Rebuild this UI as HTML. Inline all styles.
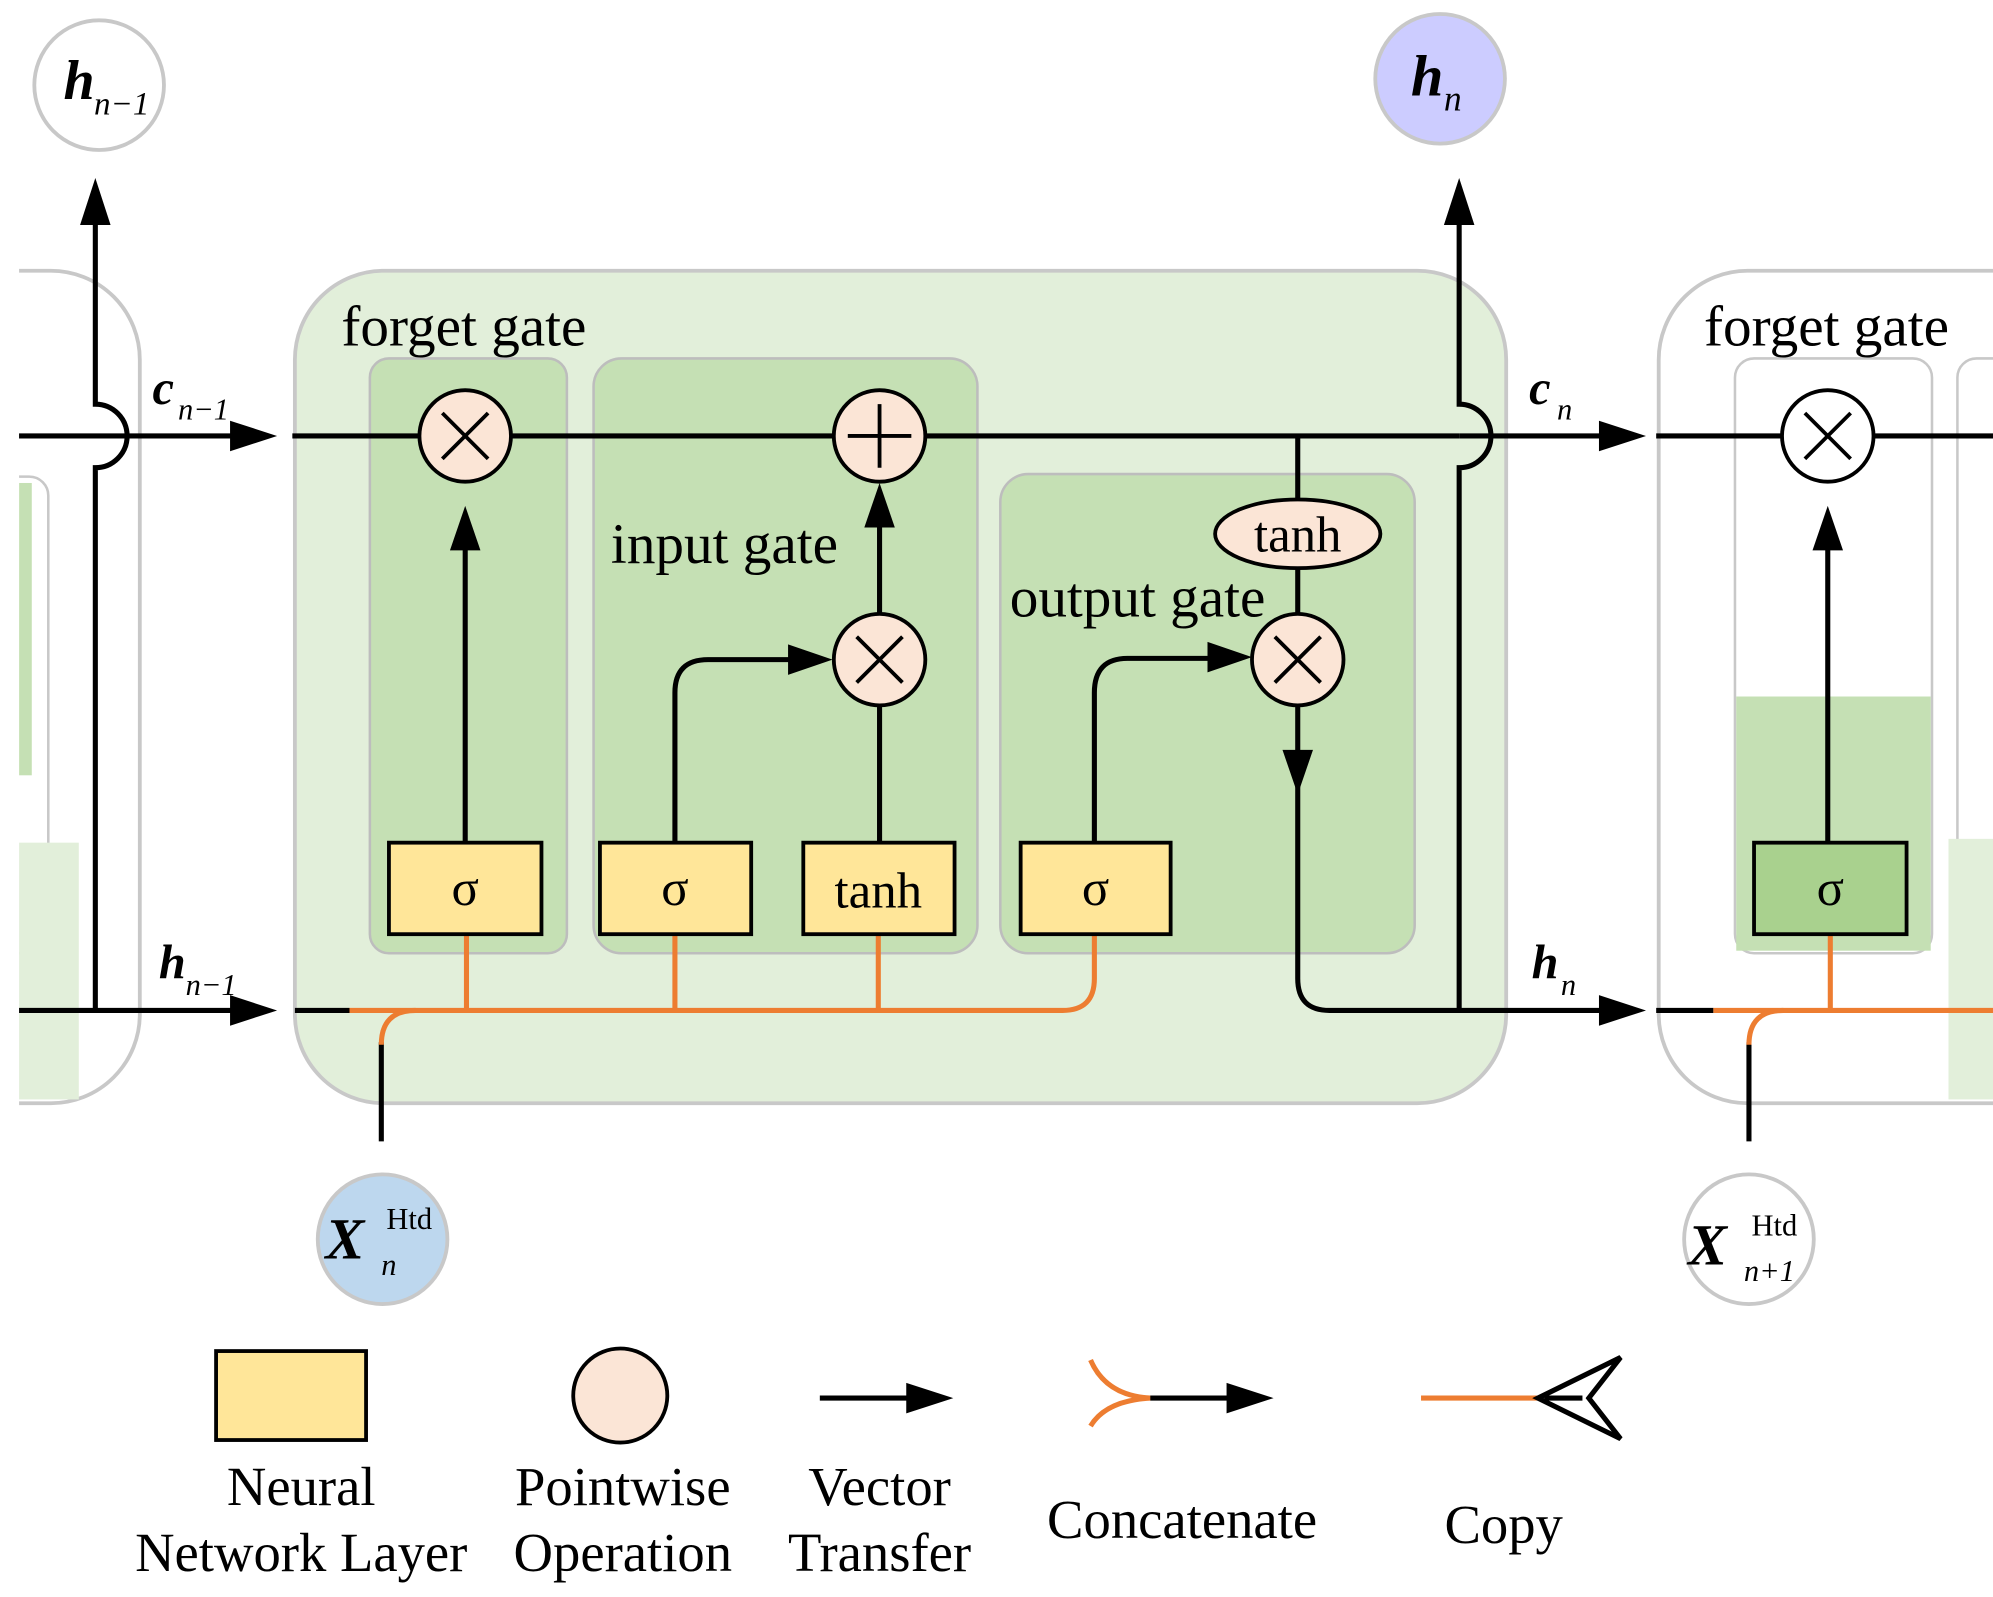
<!DOCTYPE html>
<html><head><meta charset="utf-8"><style>html,body{margin:0;padding:0;background:#fff}svg{display:block}</style></head><body>
<svg width="1993" height="1597" viewBox="0 0 1568 1256.5" preserveAspectRatio="none" xmlns="http://www.w3.org/2000/svg" font-family="Liberation Serif, serif">
<!-- left partial cell -->
<rect x="-100" y="213" width="210" height="655" rx="70" fill="#fff" stroke="#c8c8c8" stroke-width="3"/>
<rect x="-60" y="375" width="98" height="375" rx="15" fill="#fff" stroke="#c8c8c8" stroke-width="2"/>
<rect x="15" y="380" width="10" height="230" fill="#c5e0b4"/>
<rect x="15" y="663" width="47" height="202" fill="#e2efda"/>
<rect x="0" y="200" width="15" height="700" fill="#fff"/>
<circle cx="78" cy="67" r="51" fill="#fff" stroke="#c8c8c8" stroke-width="3"/>
<text x="50" y="78" font-size="44" font-style="italic" font-weight="bold">h</text><text x="74" y="90" font-size="26" font-style="italic">n−1</text>
<!-- main cell -->
<rect x="232" y="213" width="953" height="655" rx="70" fill="#e2efda" stroke="#c8c8c8" stroke-width="3"/>
<rect x="291" y="282" width="155" height="468" rx="15" fill="#c5e0b4" stroke="#bdbdbd" stroke-width="2"/>
<rect x="467" y="282" width="302" height="468" rx="22" fill="#c5e0b4" stroke="#bdbdbd" stroke-width="2"/>
<rect x="787" y="373" width="326" height="377" rx="22" fill="#c5e0b4" stroke="#bdbdbd" stroke-width="2"/>
<text x="365" y="272" font-size="45" text-anchor="middle">forget gate</text>
<text x="570" y="443" font-size="45" text-anchor="middle">input gate</text>
<text x="895" y="485" font-size="45" text-anchor="middle">output gate</text>
<!-- right cell -->
<rect x="1305" y="213" width="400" height="655" rx="70" fill="#fff" stroke="#c8c8c8" stroke-width="3"/>
<rect x="1365" y="282" width="155" height="468" rx="15" fill="#fff" stroke="#c8c8c8" stroke-width="2"/>
<rect x="1366" y="548" width="153" height="200" fill="#c5e0b4"/>
<rect x="1540" y="282" width="100" height="468" rx="15" fill="#fff" stroke="#c8c8c8" stroke-width="2"/>
<rect x="1533" y="660" width="40" height="205" fill="#e2efda"/>
<text x="1437" y="272" font-size="45" text-anchor="middle">forget gate</text>
<g stroke="#000" stroke-width="4" fill="none">
<path d="M75 795 V368 A25 25 0 0 0 75 318 V165"/>
<path d="M15 343 H195"/>
<path d="M15 795 H195"/>
<path d="M230 343 H1148"/>
<path d="M1148 795 V368 A25 25 0 0 0 1148 318 V165"/>
<path d="M1148 343 H1270"/>
<path d="M232 795 H275"/>
<path d="M366 663 V425"/>
<path d="M692 663 V555 M692 483 V410"/>
<path d="M531 663 V545 Q531 519 557 519 H630"/>
<path d="M861 663 V545 Q861 518 887 518 H960"/>
<path d="M1021 343 V393 M1021 447 V483 M1021 555 V598"/>
<path d="M1021 610 V770 Q1021 795 1046 795 H1270"/>
<path d="M300 820 V898"/>
<path d="M1303 343 H1402 M1474 343 H1568"/>
<path d="M1438 663 V430"/>
<path d="M1303 795 H1348"/>
<path d="M1376 820 V898"/>
</g>
<g fill="#000">
<polygon points="75,140 63,177 87,177"/>
<polygon points="1148,140 1136,177 1160,177"/>
<polygon points="218,343 181,331 181,355"/>
<polygon points="218,795 181,783 181,807"/>
<polygon points="1295,343 1258,331 1258,355"/>
<polygon points="1295,795 1258,783 1258,807"/>
<polygon points="366,398 354,433 378,433"/>
<polygon points="692,380 680,415 704,415"/>
<polygon points="655,519 620,507 620,531"/>
<polygon points="985,517 950,505 950,529"/>
<polygon points="1021,625 1009,590 1033,590"/>
<polygon points="1438,398 1426,433 1450,433"/>
</g>
<g stroke="#ed7d31" stroke-width="4" fill="none">
<path d="M275 795 H836 Q861 795 861 770 V735"/>
<path d="M367 735 V795 M531 735 V795 M691 735 V795"/>
<path d="M300 822 Q300 795 327 795"/>
<path d="M1348 795 H1568 M1440 735 V795"/>
<path d="M1376 822 Q1376 795 1403 795"/>
</g>
<g stroke="#000" stroke-width="3">
<circle cx="366" cy="343" r="36" fill="#fbe5d6"/>
<circle cx="692" cy="343" r="36" fill="#fbe5d6"/>
<circle cx="692" cy="519" r="36" fill="#fbe5d6"/>
<circle cx="1021" cy="519" r="36" fill="#fbe5d6"/>
<circle cx="1438" cy="343" r="36" fill="#fff"/>
<ellipse cx="1021" cy="420" rx="65" ry="27" fill="#fbe5d6"/>
<path d="M348 325 L384 361 M384 325 L348 361 M674 501 L710 537 M710 501 L674 537 M1003 501 L1039 537 M1039 501 L1003 537 M1420 325 L1456 361 M1456 325 L1420 361 M692 318 V368 M667 343 H717" fill="none"/>
<rect x="306" y="663" width="120" height="72" fill="#ffe699"/>
<rect x="472" y="663" width="119" height="72" fill="#ffe699"/>
<rect x="632" y="663" width="119" height="72" fill="#ffe699"/>
<rect x="803" y="663" width="118" height="72" fill="#ffe699"/>
<rect x="1380" y="663" width="120" height="72" fill="#a9d18e"/>
</g>
<g font-size="40" text-anchor="middle">
<text x="366" y="712">σ</text><text x="531" y="712">σ</text><text x="691" y="714">tanh</text><text x="862" y="712">σ</text><text x="1440" y="712">σ</text>
<text x="1021" y="434">tanh</text>
</g>
<text x="120" y="318" font-size="38" font-style="italic" font-weight="bold">c</text><text x="140" y="330" font-size="24" font-style="italic">n−1</text>
<text x="125" y="770" font-size="38" font-style="italic" font-weight="bold">h</text><text x="146" y="783" font-size="24" font-style="italic">n−1</text>
<text x="1203" y="318" font-size="38" font-style="italic" font-weight="bold">c</text><text x="1225" y="330" font-size="24" font-style="italic">n</text>
<text x="1205" y="770" font-size="38" font-style="italic" font-weight="bold">h</text><text x="1228" y="783" font-size="24" font-style="italic">n</text>
<circle cx="1133" cy="62" r="51" fill="#ccccff" stroke="#c8c8c8" stroke-width="3"/>
<text x="1110" y="75" font-size="46" font-style="italic" font-weight="bold">h</text><text x="1136" y="87" font-size="28" font-style="italic">n</text>
<circle cx="301" cy="975" r="51" fill="#bdd7ee" stroke="#c8c8c8" stroke-width="3"/>
<text x="256" y="990" font-size="46" font-style="italic" font-weight="bold">X</text><text x="304" y="967" font-size="24">Htd</text><text x="300" y="1003" font-size="24" font-style="italic">n</text>
<circle cx="1376" cy="975" r="51" fill="#fff" stroke="#c8c8c8" stroke-width="3"/>
<text x="1328" y="995" font-size="46" font-style="italic" font-weight="bold">X</text><text x="1378" y="972" font-size="24">Htd</text><text x="1372" y="1008" font-size="24" font-style="italic">n+1</text>
<rect x="170" y="1063" width="118" height="70" fill="#ffe699" stroke="#000" stroke-width="3"/>
<circle cx="488" cy="1098" r="37" fill="#fbe5d6" stroke="#000" stroke-width="3"/>
<path d="M645 1100 H720" stroke="#000" stroke-width="4"/>
<polygon points="750,1100 713,1088 713,1112"/>
<path d="M858 1070 Q870 1098 905 1100 Q870 1102 858 1122" stroke="#ed7d31" stroke-width="4" fill="none"/>
<path d="M905 1100 H970" stroke="#000" stroke-width="4"/>
<polygon points="1002,1100 965,1088 965,1112"/>
<path d="M1118 1100 H1215" stroke="#ed7d31" stroke-width="4"/>
<path d="M1210 1100 L1275 1068 L1250 1100 L1275 1132 Z M1215 1100 L1245 1100" stroke="#000" stroke-width="4" fill="#fff"/>
<g font-size="43" text-anchor="middle">
<text x="237" y="1184">Neural</text><text x="237" y="1236">Network Layer</text>
<text x="490" y="1184">Pointwise</text><text x="490" y="1236">Operation</text>
<text x="692" y="1184">Vector</text><text x="692" y="1236">Transfer</text>
<text x="930" y="1210">Concatenate</text>
<text x="1183" y="1214">Copy</text>
</g>
</svg>
</body></html>
